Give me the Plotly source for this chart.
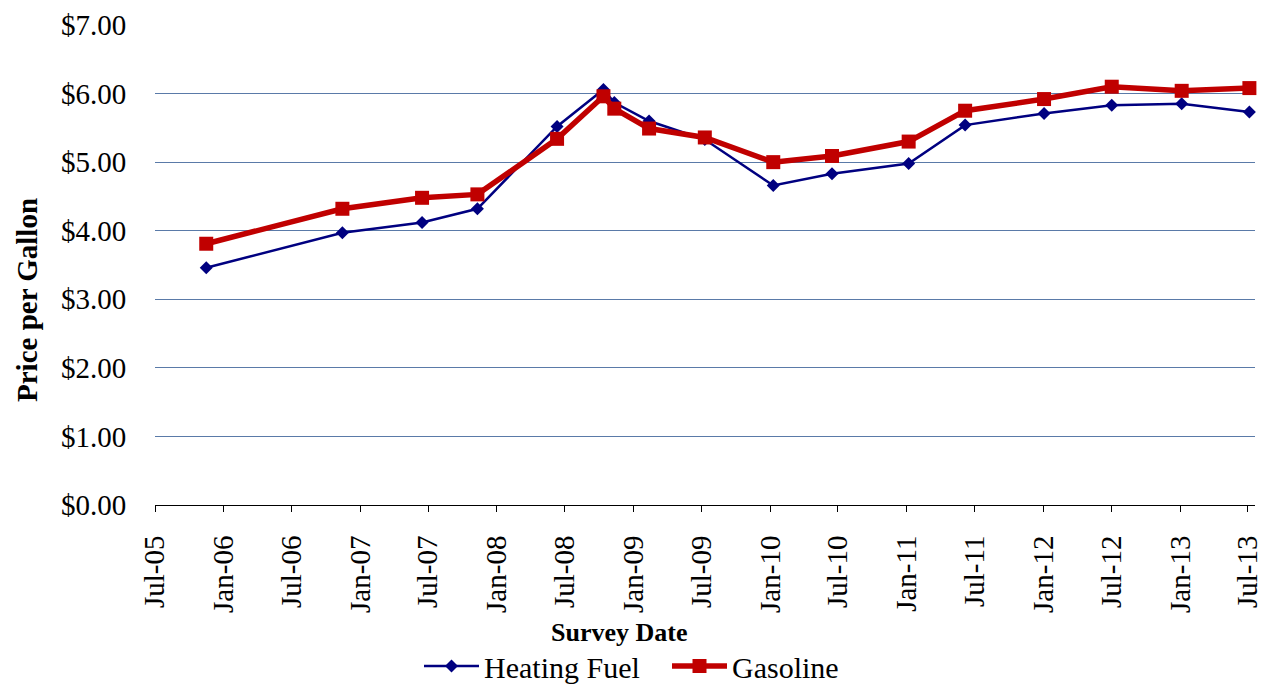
import plotly.graph_objects as go

# ---- data ----
survey_dates = ["2005-11-15", "2006-11-14", "2007-06-15", "2007-11-10", "2008-06-10",
                "2008-10-12", "2008-11-10", "2009-02-11", "2009-07-10", "2010-01-09",
                "2010-06-15", "2011-01-06", "2011-06-06", "2012-01-03", "2012-07-02",
                "2013-01-05", "2013-07-05"]
heating_fuel = [3.46, 3.97, 4.12, 4.32, 5.52, 6.06, 5.87, 5.60, 5.33, 4.66,
                4.83, 4.98, 5.54, 5.71, 5.83, 5.85, 5.73]
gasoline = [3.81, 4.32, 4.48, 4.53, 5.34, 5.96, 5.78, 5.49, 5.36, 5.00,
            5.09, 5.30, 5.75, 5.92, 6.10, 6.04, 6.08]
tick_dates = ["2005-07-01", "2006-01-01", "2006-07-01", "2007-01-01", "2007-07-01",
              "2008-01-01", "2008-07-01", "2009-01-01", "2009-07-01", "2010-01-01",
              "2010-07-01", "2011-01-01", "2011-07-01", "2012-01-01", "2012-07-01",
              "2013-01-01", "2013-07-01"]
tick_labels = ["Jul-05", "Jan-06", "Jul-06", "Jan-07", "Jul-07", "Jan-08", "Jul-08",
               "Jan-09", "Jul-09", "Jan-10", "Jul-10", "Jan-11", "Jul-11", "Jan-12",
               "Jul-12", "Jan-13", "Jul-13"]
y_ticks = [0, 1, 2, 3, 4, 5, 6, 7]
y_labels = ["$0.00", "$1.00", "$2.00", "$3.00", "$4.00", "$5.00", "$6.00", "$7.00"]

FONT = "Liberation Serif"
OFF = 8  # page body margin of the browser
W, H = 1271 - OFF, 685 - OFF
PL, PR, PT, PB = 155, 1255, 25, 505  # plot area in page pixels

fig = go.Figure()
fig.add_trace(go.Scatter(
    x=survey_dates, y=heating_fuel, name="Heating Fuel", mode="lines+markers",
    line=dict(color="#000080", width=2.5),
    marker=dict(symbol="diamond", size=10, color="#000080"),
    cliponaxis=False,
))
fig.add_trace(go.Scatter(
    x=survey_dates, y=gasoline, name="Gasoline", mode="lines+markers",
    line=dict(color="#C00000", width=5.5),
    marker=dict(symbol="square", size=14, color="#C00000"),
    cliponaxis=False,
))

pw, ph = PR - PL, PB - PT
fig.update_layout(
    width=W, height=H,
    margin=dict(l=PL - OFF, r=W - (PR - OFF), t=PT - OFF, b=H - (PB - OFF), autoexpand=False),
    paper_bgcolor="white", plot_bgcolor="white",
    font=dict(family=FONT, color="#000000"),
    showlegend=True,
    legend=dict(
        orientation="h", xref="container", yref="paper",
        x=(419 - OFF) / W, xanchor="left", y=(PB - 640) / ph, yanchor="top",
        font=dict(family=FONT, size=30, color="#000000"),
        bgcolor="rgba(255,255,255,0)", itemwidth=55,
        entrywidth=178, entrywidthmode="pixels",
        tracegroupgap=0,
    ),
    annotations=[
        dict(text="<b>Survey Date</b>", xref="paper", yref="paper",
             x=(619 - PL) / pw, y=(PB - 632) / ph,
             showarrow=False, font=dict(family=FONT, size=26, color="#000000"),
             xanchor="center", yanchor="middle"),
        dict(text="<b>Price per Gallon</b>", xref="paper", yref="paper",
             x=(27 - PL) / pw, y=(PB - 300) / ph, textangle=-90,
             showarrow=False, font=dict(family=FONT, size=29, color="#000000"),
             xanchor="center", yanchor="middle"),
    ],
)

fig.update_xaxes(
    type="date", automargin=False,
    range=["2005-07-01", "2013-07-20"],
    tickmode="array", tickvals=tick_dates, ticktext=tick_labels,
    tickangle=-90,
    tickfont=dict(family=FONT, size=29, color="#000000"),
    ticks="outside", ticklen=6, tickcolor="#000000", tickwidth=1,
    ticklabelstandoff=12,
    showline=True, linecolor="#000000", linewidth=1,
    showgrid=False, zeroline=False,
)
fig.update_yaxes(
    range=[0, 7], automargin=False,
    tickmode="array", tickvals=y_ticks, ticktext=y_labels,
    tickfont=dict(family=FONT, size=29, color="#000000"),
    ticks="outside", ticklen=22, tickcolor="rgba(0,0,0,0)",
    showgrid=True, gridcolor="#5a7aa8", gridwidth=1.2,
    showline=False, zeroline=False,
)

fig.write_html("out.html")
